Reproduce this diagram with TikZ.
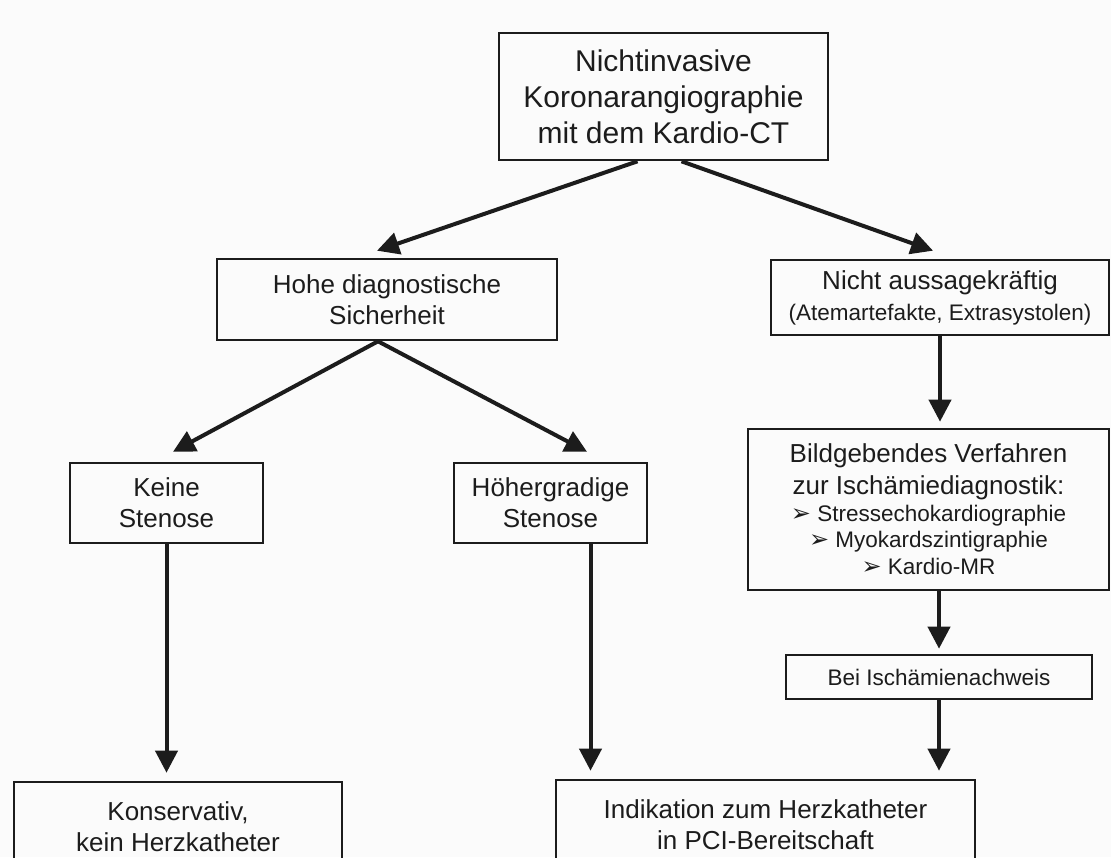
\documentclass[tikz,border=0pt]{standalone}
\usepackage{fontspec}
\setmainfont{Liberation Sans}
\newfontfamily\symfont{DejaVu Sans}
\usetikzlibrary{arrows.meta, positioning, calc}
\definecolor{ink}{HTML}{1C1C1C}
\definecolor{bg}{HTML}{FBFBFB}
\newcommand{\klein}{\fontsize{11.25}{13.5}\selectfont}
\newcommand{\pfeil}{{\symfont\fontsize{12}{13}\selectfont ➢}}

\begin{document}
\begin{tikzpicture}[
  x=0.5pt, y=-0.5pt,
  box/.style={rectangle, draw=ink, line width=1.3pt, inner sep=0pt, align=center, text=ink, font=\fontsize{13}{15.5}\selectfont},
  titel/.style={box, font=\fontsize{15}{18}\selectfont},
  arrow/.style={-{Triangle[length=11pt, width=11pt]}, line width=2pt, draw=ink, shorten >=4pt}
]
\useasboundingbox (0,0) rectangle (1111,857);
\fill[bg] (0,0) rectangle (1111,857);

% Ausgangspunkt
\node[titel, minimum width=164.5pt, minimum height=63.5pt] (ct) at (663.5,96.5) {Nichtinvasive\\Koronarangiographie\\mit dem Kardio-CT};

% Erste Ebene
\node[box, minimum width=170pt, minimum height=40.5pt] (hohe) at (387,299.5) {Hohe diagnostische\\Sicherheit};
\node[box, minimum width=169pt, minimum height=37.5pt] (nicht) at (940,297.5) {Nicht aussagekräftig\\{\klein (Atemartefakte, Extrasystolen)}};

% Zweite Ebene
\node[box, minimum width=96.5pt, minimum height=40pt] (keine) at (166.5,503) {Keine\\Stenose};
\node[box, minimum width=96.5pt, minimum height=40pt] (hoeher) at (550.5,503) {Höhergradige\\Stenose};
\node[box, minimum width=180.5pt, minimum height=80.5pt] (bild) at (928.5,509.5) {Bildgebendes Verfahren\\[0.5pt]zur Ischämiediagnostik:\\[-2pt]{\klein\pfeil\ Stressechokardiographie}\\[-2.5pt]{\klein\pfeil\ Myokardszintigraphie}\\[-2pt]{\klein\pfeil\ Kardio-MR}};
\node[box, minimum width=153pt, minimum height=22pt, font=\klein] (bei) at (939,677) {Bei Ischämienachweis};

% Ergebnis
\node[box, minimum width=164pt, minimum height=45pt] (kons) at (178,827) {Konservativ,\\kein Herzkatheter};
\node[box, minimum width=209.5pt, minimum height=45pt] (indik) at (765.5,825) {Indikation zum Herzkatheter\\in PCI-Bereitschaft};

% Pfeile oben
\draw[arrow, shorten >=0pt] ([xshift=-13pt]ct.south) -- ([xshift=-5pt, yshift=3.5pt]hohe.north);
\draw[arrow, shorten >=0pt] ([xshift=9pt]ct.south) -- ([xshift=-3.5pt, yshift=4pt]nicht.north);

% Pfeile links
\draw[arrow, shorten >=0pt] ([xshift=-4.5pt]hohe.south) -- ([xshift=3.25pt, yshift=5pt]keine.north);
\draw[arrow, shorten >=0pt] ([xshift=-4.5pt]hohe.south) -- ([xshift=18.25pt, yshift=5pt]hoeher.north);
\draw[arrow] (keine.south) -- (keine.south |- kons.north);
\draw[arrow] ([xshift=20pt]hoeher.south) -- ([xshift=20pt]hoeher.south |- indik.north);

% Pfeile rechts
\draw[arrow, shorten >=3pt] (nicht.south) -- (nicht.south |- bild.north);
\draw[arrow, shorten >=2.5pt] (bei.north |- bild.south) -- (bei.north);
\draw[arrow] (bei.south) -- (bei.south |- indik.north);

\end{tikzpicture}
\end{document}
